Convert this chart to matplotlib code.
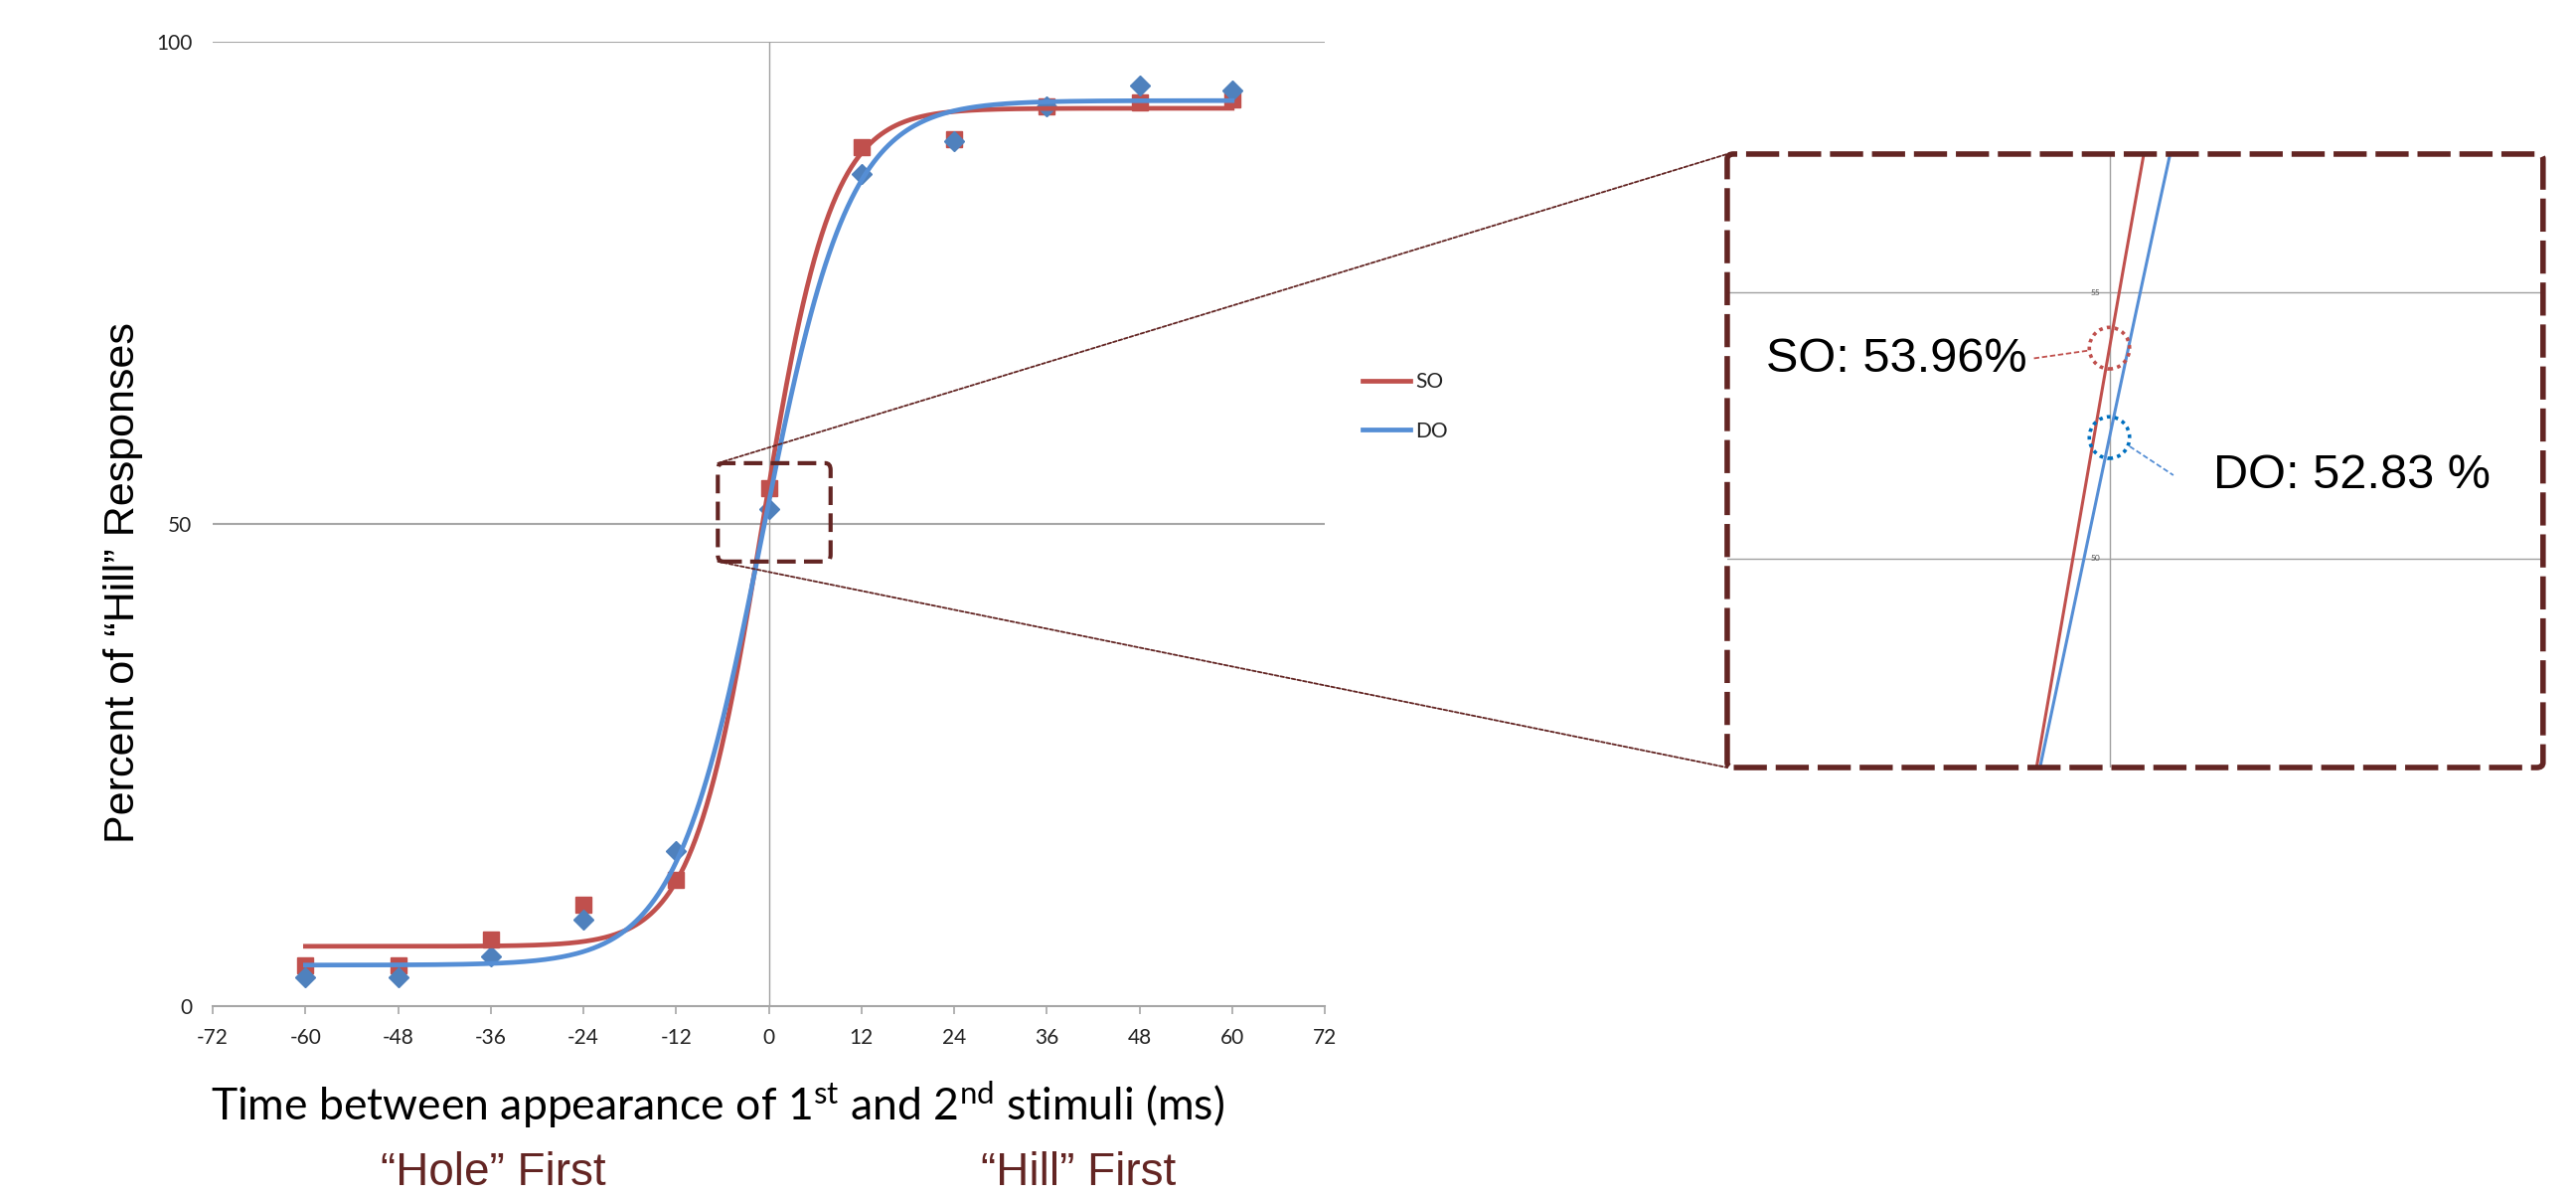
import numpy as np
import matplotlib
matplotlib.use("Agg")
import matplotlib.pyplot as plt
from matplotlib.patches import FancyBboxPatch, Ellipse, ConnectionPatch

plt.rcParams['font.family'] = ['Lato', 'DejaVu Sans']
plt.rcParams['mathtext.fontset'] = 'custom'
plt.rcParams['mathtext.rm'] = 'Lato'
plt.rcParams['axes.unicode_minus'] = False

# data
x_ms = [-60, -48, -36, -24, -12, 0, 12, 24, 36, 48, 60]
so_pct = [4.2, 4.2, 6.9, 10.5, 13.1, 53.7, 89.1, 89.9, 93.3, 93.7, 94.0]
do_pct = [3.0, 3.0, 5.2, 9.0, 16.1, 51.5, 86.3, 89.7, 93.3, 95.5, 94.9]
series_names = ['SO', 'DO']
# fitted sigmoid: floor, ceiling, midpoint (ms), width (ms)
so_fit = [6.2, 93.1, -0.89, 4.48]
do_fit = [4.25, 93.9, -0.8, 5.6]
x_ticks = list(range(-72, 73, 12))
y_ticks = [0, 50, 100]
zoom_box = [-6.6, 8.0, 46.1, 56.3]
inset_xlim = [-8.55, 9.7]
inset_ylim = [46.07, 57.6]
inset_yticks = [50, 55]
so_label = 'SO: 53.96%'
do_label = 'DO: 52.83 %'

red = '#C0504D'
blue_line = '#558ED5'
blue_mk = '#4F81BD'
dark = '#632523'
grey = '#A6A6A6'


def sigmoid(x, p):
    lo, hi, x0, s = p
    return lo + (hi - lo) / (1 + np.exp(-(x - x0) / s))


fig = plt.figure(figsize=(25.92, 12.04), dpi=100)
ax = fig.add_axes([0.0826, 0.1595, 0.4317, 0.8056])

xs = np.linspace(x_ms[0], x_ms[-1], 500)
ax.plot(x_ms, so_pct, ls='none', marker='s', ms=12, color=red, zorder=3)
ax.plot(x_ms, do_pct, ls='none', marker='D', ms=10.5, color=blue_mk, zorder=3)
ax.plot(xs, sigmoid(xs, so_fit), color=red, lw=3.4, zorder=4, label=series_names[0])
ax.plot(xs, sigmoid(xs, do_fit), color=blue_line, lw=3.4, zorder=4, label=series_names[1])

ax.set_xlim(x_ticks[0], x_ticks[-1])
ax.set_ylim(y_ticks[0], y_ticks[-1])
ax.set_xticks(x_ticks)
ax.set_yticks(y_ticks)
for s in ['left', 'top', 'right']:
    ax.spines[s].set_visible(False)
ax.spines['bottom'].set_color(grey)
ax.spines['bottom'].set_linewidth(1.5)
ax.tick_params(axis='x', direction='out', length=6, width=1.2, color=grey,
               labelsize=15, pad=10, labelcolor='#222222')
ax.tick_params(axis='y', length=0, labelsize=15, pad=15, labelcolor='#222222')
for yv in y_ticks[1:]:
    ax.axhline(yv, color=grey, lw=1.5, zorder=1)
ax.axvline(0, color='#A0A0A0', lw=1, zorder=1)

leg = ax.legend(loc='center left', bbox_to_anchor=(0.529, 0.6603),
                bbox_transform=fig.transFigure, frameon=False, fontsize=15,
                handlelength=2.3, handletextpad=0.25, labelspacing=1.4,
                borderpad=0, borderaxespad=0)
for t in leg.get_texts():
    t.set_color('#222222')

# small dashed box on the main plot
zb = FancyBboxPatch((zoom_box[0], zoom_box[2]), zoom_box[1] - zoom_box[0],
                    zoom_box[3] - zoom_box[2],
                    boxstyle='round,pad=0,rounding_size=0.7',
                    fill=False, ec=dark, lw=3, ls=(0, (4.5, 2)), zorder=5)
ax.add_patch(zb)

# inset
ins = fig.add_axes([0.6705, 0.3588, 0.3167, 0.5125])
ins.plot(xs, sigmoid(xs, so_fit), color=red, lw=2.2, zorder=3)
ins.plot(xs, sigmoid(xs, do_fit), color=blue_line, lw=2.2, zorder=3)
ins.set_xlim(inset_xlim)
ins.set_ylim(inset_ylim)
ins.set_xticks([])
ins.set_yticks([])
for s in ins.spines.values():
    s.set_visible(False)
for yv in inset_yticks:
    ins.axhline(yv, color='#A0A0A0', lw=1, zorder=1)
    ins.text(-0.2, yv, str(yv), fontsize=6, color='#555555', ha='right', va='center')
ins.axvline(0, color='#A0A0A0', lw=1, zorder=1)

border = FancyBboxPatch((0, 0), 1, 1, boxstyle='round,pad=0,rounding_size=0.008',
                        transform=ins.transAxes, fill=False, ec=dark, lw=4,
                        ls=(0, (6, 1.6)), clip_on=False, zorder=6)
ins.add_patch(border)

so0 = sigmoid(0, so_fit)
do0 = sigmoid(0, do_fit)
ins.add_patch(Ellipse((0, so0), 0.9, 0.78, fill=False, ec=red, lw=2.6,
                      ls=(0, (1, 1.2)), zorder=5))
ins.add_patch(Ellipse((0, do0), 0.9, 0.78, fill=False, ec='#0070C0', lw=2.6,
                      ls=(0, (1, 1.2)), zorder=5))
ins.text(0.0475, 0.665, so_label, transform=ins.transAxes, fontsize=35,
         family=['Liberation Sans', 'DejaVu Sans'], va='center', ha='left')
ins.text(0.5956, 0.476, do_label, transform=ins.transAxes, fontsize=35,
         family=['Liberation Sans', 'DejaVu Sans'], va='center', ha='left')
ins.plot([0.376, 0.4446], [0.667, 0.680], transform=ins.transAxes, color=red,
         lw=1.3, ls=(0, (3, 1.5)), zorder=5)
ins.plot([0.4933, 0.5469], [0.5235, 0.4765], transform=ins.transAxes, color=blue_line,
         lw=1.3, ls=(0, (3, 1.5)), zorder=5)

# connector lines
for ya, yb in [(zoom_box[3], 1), (zoom_box[2], 0)]:
    cp = ConnectionPatch(xyA=(zoom_box[0], ya), coordsA=ax.transData,
                         xyB=(0, yb), coordsB=ins.transAxes,
                         color=dark, lw=1.3, ls=(0, (2, 1.2)), zorder=2)
    fig.add_artist(cp)

# axis titles
fig.text(0.2786, 1 - 1111 / 1204, 'Time between appearance of 1$^{\\mathrm{st}}$ and 2$^{\\mathrm{nd}}$ stimuli (ms)',
         fontsize=32, ha='center', va='center')
fig.text(124 / 2592, 1 - 586 / 1204, 'Percent of \u201cHill\u201d Responses', rotation=90,
         fontsize=31, family=['Liberation Sans', 'DejaVu Sans'], ha='center', va='center')
fig.text(496 / 2592, 1 - 1180 / 1204, '\u201cHole\u201d First', fontsize=33, color=dark,
         family=['Liberation Sans', 'DejaVu Sans'], ha='center', va='center')
fig.text(1085 / 2592, 1 - 1180 / 1204, '\u201cHill\u201d First', fontsize=33, color=dark,
         family=['Liberation Sans', 'DejaVu Sans'], ha='center', va='center')

fig.savefig('out.png', dpi=100, facecolor='white')
